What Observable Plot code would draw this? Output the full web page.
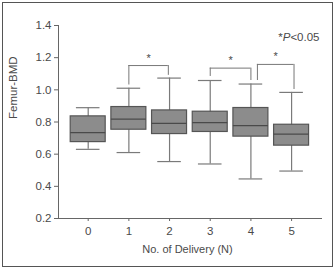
<!DOCTYPE html>
<html><head><meta charset="utf-8">
<script src="https://cdn.jsdelivr.net/npm/d3@7"></script>
<script src="https://cdn.jsdelivr.net/npm/@observablehq/plot@0.6"></script>
<style>
body{margin:0;background:#fff;font-family:"Liberation Sans",Arial,sans-serif;}
#wrap{position:relative;width:335px;height:270px;}
#frame{position:absolute;left:2px;top:2px;width:329px;height:263px;border:1px solid #555;pointer-events:none;}
</style></head><body>
<div id="wrap"><div id="chart"></div><div id="frame"></div></div>
<script>
const groups = [0, 1, 2, 3, 4, 5];
const mins    = [0.63, 0.61, 0.554, 0.539, 0.446, 0.495];
const q1s     = [0.675, 0.752, 0.725, 0.738, 0.709, 0.653];
const medians = [0.734, 0.818, 0.792, 0.796, 0.777, 0.725];
const q3s     = [0.835, 0.893, 0.872, 0.864, 0.887, 0.783];
const maxs    = [0.889, 1.01, 1.073, 1.058, 1.036, 0.984];
const yTicks = [0.2, 0.4, 0.6, 0.8, 1.0, 1.2, 1.4];
// significance brackets
const brFrom  = [1, 3, 4.16];
const brTo    = [1.97, 4, 5.06];
const brTop   = [1.151, 1.135, 1.158];
const brLeftEnd  = [1.03, 1.083, 1.058];
const brRightEnd = [1.09, 1.058, 1.002];
const noteText = "*P<0.05";

const boxes = groups.map((g, i) => ({g, min: mins[i], q1: q1s[i], med: medians[i], q3: q3s[i], max: maxs[i]}));
const brackets = brFrom.map((a, i) => ({a, b: brTo[i], top: brTop[i], le: brLeftEnd[i], re: brRightEnd[i], mid: (a + brTo[i]) / 2}));
const hw = 0.43, cw = 0.29;
const ink = "#4a4a4a";

const chart = Plot.plot({
  width: 335, height: 270,
  marginLeft: 58, marginRight: 13, marginTop: 25, marginBottom: 52,
  style: {fontFamily: '"Liberation Sans", Arial, sans-serif', fontSize: "11px", color: ink, background: "transparent"},
  x: {domain: [-0.73, 5.76]},
  y: {domain: [0.2, 1.4]},
  marks: [
    Plot.axisY({ticks: yTicks, tickFormat: d3.format(".1f"), tickSize: 4, tickPadding: 3, label: null, stroke: "#666", fontSize: 11.5}),
    Plot.axisX({ticks: groups, tickFormat: d => String(d), tickSize: 3, tickPadding: 5, label: null, stroke: "#666", fontSize: 11.5}),
    Plot.ruleX([0], {x: () => -0.73, y1: 0.2, y2: 1.4, stroke: "#666"}),
    Plot.ruleY([0.2], {x1: -0.73, x2: 5.76, stroke: "#666"}),
    // whiskers
    Plot.ruleX(boxes, {x: "g", y1: "min", y2: "max", stroke: "#7a7a7a", strokeWidth: 1.2}),
    Plot.ruleY(boxes, {y: "min", x1: d => d.g - cw, x2: d => d.g + cw, stroke: "#7a7a7a", strokeWidth: 1.2}),
    Plot.ruleY(boxes, {y: "max", x1: d => d.g - cw, x2: d => d.g + cw, stroke: "#7a7a7a", strokeWidth: 1.2}),
    // boxes
    Plot.rect(boxes, {x1: d => d.g - hw, x2: d => d.g + hw, y1: "q1", y2: "q3", fill: "#8c8c8c", stroke: "#555", strokeWidth: 1.2}),
    Plot.ruleY(boxes, {y: "med", x1: d => d.g - hw, x2: d => d.g + hw, stroke: "#4a4a4a", strokeWidth: 1.3}),
    // brackets
    Plot.ruleY(brackets, {y: "top", x1: "a", x2: "b", stroke: "#777"}),
    Plot.ruleX(brackets, {x: "a", y1: "le", y2: "top", stroke: "#777"}),
    Plot.ruleX(brackets, {x: "b", y1: "re", y2: "top", stroke: "#777"}),
    Plot.text(brackets, {x: "mid", y: "top", text: () => "*", dy: -4, lineAnchor: "bottom", fill: ink, fontSize: 11}),
    // labels
    Plot.text(["Femur-BMD"], {frameAnchor: "left", dx: -45, dy: -3, rotate: -90, fill: ink, fontSize: 11.5}),
    Plot.text(["No. of Delivery (N)"], {frameAnchor: "bottom", dx: -3, dy: 34, fill: ink, fontSize: 11}),
    Plot.text([noteText], {frameAnchor: "top-right", textAnchor: "end", dx: -3, dy: 7, fill: ink, fontSize: 11.5})
  ]
});
document.getElementById("chart").appendChild(chart);
// italic P in the note
d3.select(chart).selectAll("text").filter(function(){ return this.textContent === noteText; }).each(function(){
  const t = d3.select(this);
  t.text(null);
  t.append("tspan").text("*");
  t.append("tspan").attr("font-style", "italic").text("P");
  t.append("tspan").text("<0.05");
});
</script>
</body></html>
